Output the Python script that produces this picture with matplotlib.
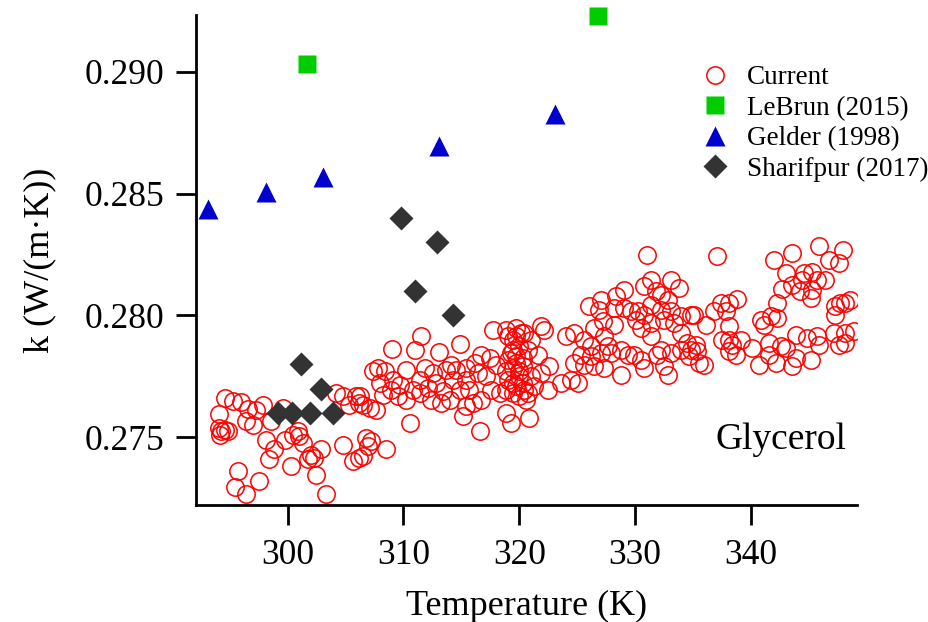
import matplotlib
matplotlib.use("Agg")
import matplotlib.pyplot as plt
from matplotlib.ticker import FormatStrFormatter

plt.rcParams['font.family'] = ['Liberation Serif', 'DejaVu Serif']

# measured thermal conductivity of glycerol (this work)
temp_current = [
    294.57, 295.29, 296.00, 296.58, 297.30, 297.87, 294.08, 296.43, 297.01, 294.08,
    294.28, 294.57, 294.85, 294.14, 299.59, 298.59, 298.16, 298.87, 298.39, 299.82,
    300.45, 300.88, 300.97, 301.31, 302.03, 302.32, 301.75, 302.89, 300.31, 302.46,
    295.72, 295.43, 296.43, 297.52, 303.32, 304.19, 304.76, 305.33, 305.91, 306.20,
    304.76, 305.62, 306.20,
    311.54, 309.01, 310.97, 313.03, 314.84, 317.71, 318.86, 319.72, 319.44, 320.01,
    319.29, 319.72, 320.30, 318.86, 320.01, 319.44, 320.44, 318.86, 320.59, 307.81,
    308.38, 310.25, 311.83, 313.69, 314.56, 315.42, 316.14, 316.71, 317.43, 318.00,
    317.14, 316.42, 315.42, 307.09, 307.67, 308.24, 308.96, 309.53, 310.25, 310.82,
    311.40, 312.12, 312.40, 313.26, 313.98, 314.84, 315.42, 315.99, 315.13, 316.71,
    317.57, 318.29, 306.23, 306.52, 310.54, 316.57, 318.86, 319.29, 320.87, 306.80,
    307.23, 308.53, 306.52, 306.95,
    319.01, 319.72, 320.15, 319.44, 319.01, 319.72, 320.30, 319.44, 320.01, 319.01,
    319.72, 320.30, 319.44, 320.01,
    307.38, 309.10, 309.68, 311.40, 312.83, 313.41, 314.27, 315.70, 307.95, 312.55,
    314.13,
    330.98, 331.35, 333.07, 333.79, 330.78, 331.78, 332.21, 332.79, 331.35, 332.21,
    333.07, 333.93, 334.80, 329.05, 328.34, 327.04, 326.04, 326.90, 328.19, 329.05,
    329.63, 330.20, 330.78, 330.06, 330.49, 331.35, 332.50, 333.36, 333.93, 334.51,
    334.80, 333.93, 333.07, 332.21, 331.35, 321.88, 322.16, 321.01, 320.44, 320.73,
    321.59, 322.59, 321.88, 321.01, 321.30, 320.73, 322.45, 323.60, 324.46, 325.03,
    324.03, 324.75, 325.61, 326.47, 327.19, 328.19, 327.33, 327.62, 326.18, 325.32,
    326.18, 327.04, 327.90, 328.77, 329.34, 324.75, 325.61, 326.47, 327.33, 328.77,
    329.91, 330.49, 330.78, 332.50, 332.79, 331.92,
    337.09, 341.97, 343.55, 345.85, 347.91, 346.71, 347.57, 342.98, 344.56, 345.27,
    344.41, 345.70, 346.42, 343.55, 342.69, 344.26, 345.27, 345.13, 342.26, 347.28,
    348.14, 348.57, 347.71, 347.28, 337.38, 338.10, 338.81, 336.80, 337.81, 335.08,
    336.09, 338.10, 340.82, 341.11, 341.68, 342.26, 337.52, 338.10, 339.10, 338.38,
    335.22, 335.37, 334.65, 338.10, 338.67, 340.10, 341.54, 342.55, 342.98, 343.84,
    344.84, 345.70, 345.85, 347.14, 348.14, 348.90, 347.57, 348.14, 340.68, 341.54,
    342.11, 343.55, 343.84, 345.13, 335.94, 335.51,
]
k_current = [
    0.27661, 0.27648, 0.27643, 0.27616, 0.27613, 0.27634, 0.27597, 0.27566, 0.27552, 0.27538,
    0.27525, 0.27531, 0.27525, 0.27511, 0.27620, 0.27566, 0.27491, 0.27450, 0.27409, 0.27491,
    0.27511, 0.27525, 0.27504, 0.27477, 0.27429, 0.27415, 0.27409, 0.27450, 0.27381, 0.27347,
    0.27361, 0.27297, 0.27269, 0.27320, 0.27269, 0.27682, 0.27668, 0.27634, 0.27668, 0.27640,
    0.27470, 0.27402, 0.27415,
    0.27917, 0.27862, 0.27859, 0.27850, 0.27884, 0.27939, 0.27941, 0.27948, 0.27900, 0.27873,
    0.27846, 0.27805, 0.27791, 0.27771, 0.27750, 0.27723, 0.27695, 0.27695, 0.27655, 0.27784,
    0.27771, 0.27777, 0.27784, 0.27777, 0.27777, 0.27784, 0.27805, 0.27839, 0.27825, 0.27798,
    0.27750, 0.27764, 0.27736, 0.27620, 0.27614, 0.27675, 0.27695, 0.27668, 0.27655, 0.27695,
    0.27682, 0.27702, 0.27655, 0.27641, 0.27655, 0.27695, 0.27627, 0.27641, 0.27586, 0.27655,
    0.27695, 0.27682, 0.27668, 0.27634, 0.27559, 0.27525, 0.27600, 0.27559, 0.27579, 0.27497,
    0.27484, 0.27450, 0.27422, 0.27463,
    0.27914, 0.27914, 0.27928, 0.27859, 0.27818, 0.27832, 0.27825, 0.27784, 0.27771, 0.27736,
    0.27709, 0.27723, 0.27682, 0.27668,
    0.27771, 0.27736, 0.27716, 0.27736, 0.27723, 0.27689, 0.27736, 0.27695, 0.27723, 0.27764,
    0.27798,
    0.28249, 0.28146, 0.28146, 0.28112, 0.28119, 0.28099, 0.28085, 0.28064, 0.28044, 0.28023,
    0.28017, 0.27996, 0.28003, 0.28105, 0.28078, 0.28064, 0.28037, 0.28023, 0.28030, 0.28030,
    0.28017, 0.28017, 0.28003, 0.27982, 0.27948, 0.27969, 0.27982, 0.27969, 0.27928, 0.27887,
    0.27859, 0.27859, 0.27846, 0.27859, 0.27914, 0.27955, 0.27941, 0.27900, 0.27928, 0.27859,
    0.27839, 0.27791, 0.27764, 0.27750, 0.27709, 0.27682, 0.27695, 0.27723, 0.27736, 0.27723,
    0.27914, 0.27928, 0.27900, 0.27948, 0.27976, 0.27962, 0.27914, 0.27873, 0.27873, 0.27839,
    0.27832, 0.27846, 0.27846, 0.27859, 0.27839, 0.27805, 0.27798, 0.27791, 0.27784, 0.27757,
    0.27839, 0.27818, 0.27784, 0.27791, 0.27757, 0.27839,
    0.28242, 0.28226, 0.28256, 0.28283, 0.28269, 0.28228, 0.28215, 0.28174, 0.28174, 0.28180,
    0.28146, 0.28146, 0.28146, 0.28126, 0.28108, 0.28099, 0.28105, 0.28071, 0.28051, 0.28037,
    0.28051, 0.28064, 0.28051, 0.28003, 0.28051, 0.28051, 0.28067, 0.28017, 0.28017, 0.28003,
    0.27962, 0.27955, 0.27982, 0.27962, 0.27996, 0.27989, 0.27900, 0.27900, 0.27900, 0.27880,
    0.27880, 0.27853, 0.27832, 0.27853, 0.27839, 0.27866, 0.27887, 0.27873, 0.27866, 0.27921,
    0.27907, 0.27914, 0.27880, 0.27928, 0.27928, 0.27935, 0.27880, 0.27887, 0.27798, 0.27839,
    0.27805, 0.27791, 0.27825, 0.27818, 0.27798, 0.27805,
]

# literature values
temp_lebrun = [301.7, 326.8]
k_lebrun = [0.29030, 0.29230]

temp_gelder = [293.1, 298.1, 303.1, 313.1, 323.1]
k_gelder = [0.28435, 0.28506, 0.28566, 0.28696, 0.28827]

temp_sharifpur = [299.2, 300.4, 301.2, 301.9, 302.9, 303.9, 309.8, 311.0, 312.9, 314.3]
k_sharifpur = [0.2760, 0.2760, 0.2780, 0.2760, 0.2770, 0.2760, 0.2840, 0.2810, 0.2830, 0.2800]

fig = plt.figure(figsize=(9.29, 6.22), dpi=100)
ax = fig.add_axes([0.211, 0.188, 0.711, 0.788])

ax.plot(temp_current, k_current, 'o', ls='none', ms=12.5, mfc='none', mec='#ff0000',
        mew=1.1, label='Current', zorder=2)
ax.plot(temp_lebrun, k_lebrun, 's', ls='none', ms=13, color='#00cc00', mec='none',
        label='LeBrun (2015)', zorder=3, clip_on=False)
ax.plot(temp_gelder, k_gelder, '^', ls='none', ms=14.5, color='#0000cc', mec='none',
        label='Gelder (1998)', zorder=3, clip_on=False)
ax.plot(temp_sharifpur, k_sharifpur, 'D', ls='none', ms=12.5, color='#333333', mec='none',
        label='Sharifpur (2017)', zorder=4)

ax.set_xlim(292.1, 349.1)
ax.set_ylim(0.27222, 0.29233)
ax.set_xticks([300, 310, 320, 330, 340])
ax.set_yticks([0.275, 0.280, 0.285, 0.290])
ax.yaxis.set_major_formatter(FormatStrFormatter('%.3f'))

for side in ['top', 'right']:
    ax.spines[side].set_visible(False)
for side in ['left', 'bottom']:
    ax.spines[side].set_linewidth(2.0)
ax.tick_params(direction='out', length=14.5, width=2.0, labelsize=25.5)
ax.tick_params(axis='x', pad=10)
ax.tick_params(axis='y', pad=8)

ax.set_xlabel('Temperature (K)', fontsize=26, labelpad=13)
ax.set_ylabel('k (W/(m·K))', fontsize=26, labelpad=21)

ax.text(0.885, 0.133, 'Glycerol', transform=ax.transAxes, fontsize=27,
        ha='center', va='center')

fig.legend(loc='upper left', bbox_to_anchor=(0.752, 0.895), frameon=False,
           fontsize=19.5, handletextpad=0.6, labelspacing=0.2, borderpad=0,
           handlelength=1.2, borderaxespad=0)

fig.savefig('out.png', dpi=100)
